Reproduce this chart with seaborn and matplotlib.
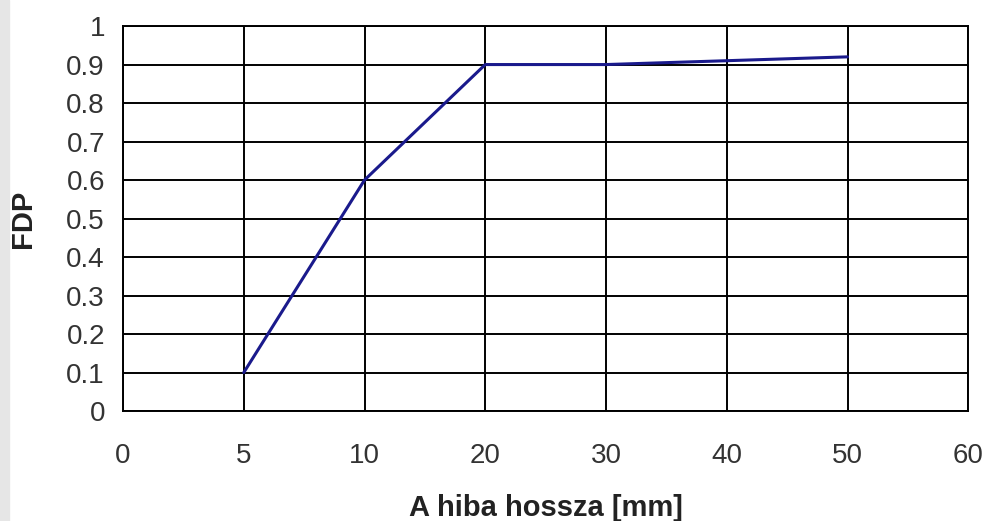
import pandas as pd
import matplotlib.pyplot as plt
import seaborn as sns
from matplotlib.patches import Rectangle

x_labels = ['0', '5', '10', '20', '30', '40', '50', '60']
hossz = ['5', '10', '20', '30', '40', '50']
fdp = [0.1, 0.6, 0.9, 0.9, 0.91, 0.92]

df = pd.DataFrame({'hossz': hossz, 'FDP': fdp})
# Excel-style category axis: evenly spaced labels
df['pos'] = [x_labels.index(h) for h in df['hossz']]

sns.set_style('white')
plt.rcParams['font.family'] = ['Liberation Sans', 'DejaVu Sans']

fig = plt.figure(figsize=(9.84, 5.21), dpi=100)
# faint grey strip on the left edge of the original image
fig.add_artist(Rectangle((0, 0), 0.009, 1, transform=fig.transFigure,
                         color='#e6e6e6', zorder=0))
ax = fig.add_axes([0.125, 0.211, 0.859, 0.739])

sns.lineplot(data=df, x='pos', y='FDP', ax=ax, color='#1a1a8c', linewidth=2.2)

ax.set_xlim(0, len(x_labels) - 1)
ax.set_ylim(0, 1)
ax.set_xticks(range(len(x_labels)))
ax.set_xticklabels(x_labels)
ax.set_yticks([i / 10 for i in range(11)])
ax.set_yticklabels(['0'] + [f'0.{i}' for i in range(1, 10)] + ['1'])

ax.grid(True, color='black', linewidth=1.4)
ax.set_axisbelow(True)
for s in ax.spines.values():
    s.set_color('black')
    s.set_linewidth(1.4)

ax.tick_params(axis='both', direction='inout', length=14, width=1.4,
               labelsize=20, labelcolor='#333333', color='black')
ax.tick_params(axis='x', pad=16)
ax.tick_params(axis='y', pad=6)

ax.set_xlabel('A hiba hossza [mm]', fontsize=21, fontweight='bold',
              color='#222222', labelpad=18)
ax.set_ylabel('FDP', fontsize=21, fontweight='bold', color='#222222', labelpad=21)

plt.savefig('out.png', dpi=100)
